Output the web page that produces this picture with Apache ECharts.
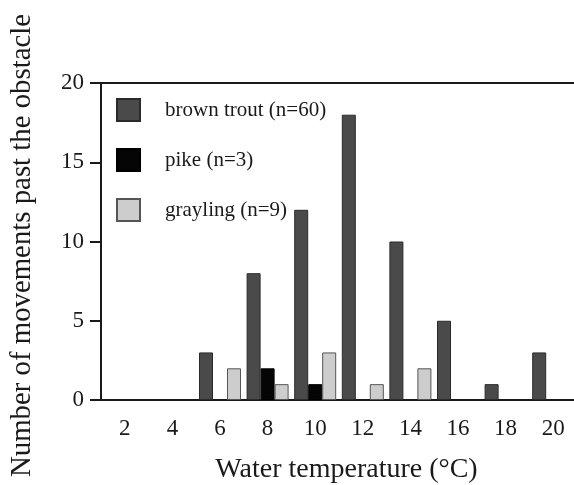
<!DOCTYPE html>
<html>
<head>
<meta charset="utf-8">
<script src="https://cdn.jsdelivr.net/npm/echarts@6/dist/echarts.min.js"></script>
<style>html,body{margin:0;padding:0;background:#fff;}#c{width:574px;height:485px;}</style>
</head>
<body>
<div id="c"></div>
<script>
const categories = ['2','4','6','8','10','12','14','16','18','20'];
const brownTrout = [0,0,3,8,12,18,10,5,1,3];
const pike = [0,0,0,2,1,0,0,0,0,0];
const grayling = [0,0,2,1,3,1,2,0,0,0];
const seriesNames = ['brown trout (n=60)','pike (n=3)','grayling (n=9)'];
const yTicks = [0,5,10,15,20];

const FONT = 'Liberation Serif';
const noZero = arr => arr.map(v => (v === 0 ? null : v));
const chart = echarts.init(document.getElementById('c'));
chart.setOption({
  animation:false,
  backgroundColor:'#fff',
  textStyle:{fontFamily:FONT},
  grid:{left:101,top:83,width:476,height:317,show:false,containLabel:false,outerBoundsMode:'none'},
  legend:{
    orient:'vertical', left:111, top:93, itemWidth:23, itemHeight:22, itemGap:26, icon:'rect',
    textStyle:{fontFamily:FONT,fontSize:21,color:'#1a1a1a',padding:[0,0,0,20]},
    data:seriesNames
  },
  xAxis:[{
    type:'category', data:categories, boundaryGap:true,
    axisLine:{lineStyle:{color:'#1a1a1a',width:2}},
    axisTick:{alignWithLabel:true,length:10,lineStyle:{color:'#1a1a1a',width:2}},
    axisLabel:{fontFamily:FONT,fontSize:23,color:'#1a1a1a',margin:17},
    name:'Water temperature (°C)', nameLocation:'middle', nameGap:56,
    nameTextStyle:{fontFamily:FONT,fontSize:28,color:'#1a1a1a',padding:[0,0,0,15]}
  },{
    type:'category', data:categories, position:'top',
    axisLine:{show:true,lineStyle:{color:'#1a1a1a',width:2}},
    axisTick:{show:false}, axisLabel:{show:false}
  }],
  yAxis:{
    type:'value', min:yTicks[0], max:yTicks[yTicks.length-1], interval:5,
    splitLine:{show:false},
    axisLine:{show:true,lineStyle:{color:'#1a1a1a',width:2}},
    axisTick:{show:true,length:11,lineStyle:{color:'#1a1a1a',width:2}},
    axisLabel:{fontFamily:FONT,fontSize:23,color:'#1a1a1a',margin:17},
    name:'Number of movements past the obstacle', nameLocation:'middle', nameRotate:90, nameGap:64,
    nameTextStyle:{fontFamily:FONT,fontSize:28.8,color:'#1a1a1a',padding:[0,8,0,0]}
  },
  series:[
    {name:seriesNames[0],type:'bar',data:noZero(brownTrout),barWidth:14,barGap:'0%',
     itemStyle:{color:'#4a4a4a',borderColor:'#2a2a2a',borderWidth:1}},
    {name:seriesNames[1],type:'bar',data:noZero(pike),barWidth:14,barGap:'0%',
     itemStyle:{color:'#050505',borderColor:'#000',borderWidth:1}},
    {name:seriesNames[2],type:'bar',data:noZero(grayling),barWidth:14,barGap:'0%',
     itemStyle:{color:'#cdcdcd',borderColor:'#555',borderWidth:1}}
  ]
});
</script>
</body>
</html>
